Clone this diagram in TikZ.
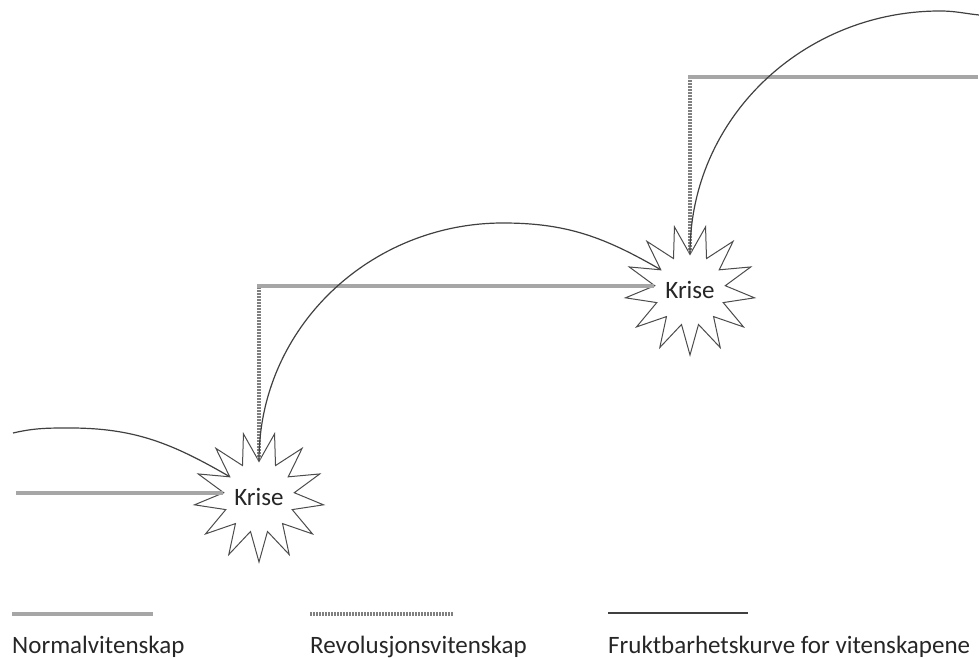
\documentclass[tikz,border=0pt]{standalone}
\usepackage{fontspec}
\setmainfont{Carlito}
\usetikzlibrary{shapes.geometric}

\tikzset{
  normalvit/.style={line width=4pt, color=black!35},
  revvit/.style={line width=4pt, color=black!50, dash pattern=on 2pt off 1pt},
  kurve/.style={line width=1.2pt, color=black!75},
  krise/.style={star, star points=13, star point ratio=1.83, shape border rotate=180,
    minimum size=130pt, inner sep=0pt, draw=black!70, line width=1pt, fill=white,
    font=\fontsize{25}{30}\selectfont, text=black!85},
  forklaring/.style={anchor=base west, inner sep=0pt, font=\fontsize{25}{30}\selectfont, text=black!85}
}

\begin{document}
\begin{tikzpicture}[x=1pt,y=1pt]
    \useasboundingbox (0,0) rectangle (979,659);

    % kriser
    \node[krise] (k1) at (259,162) {Krise};
    \node[krise] (k2) at (690,369) {Krise};

    % hjelpepunkter
    \coordinate (n0) at (16,0);
    \coordinate (e2) at (978,582);
    \coordinate (a0) at (13,226);
    \coordinate (pa) at (70,231);
    \coordinate (pb) at (503,436);
    \coordinate (pc) at (940,648);
    \coordinate (c3) at (979,644);
    \coordinate (r1) at (k1.inner point 7 |- k2.inner point 10);
    \coordinate (r2) at (k2.inner point 7 |- e2);

    % revolusjonsvitenskap
    \draw[revvit] (k1.inner point 7) -- ([yshift=2pt]r1);
    \draw[revvit] (k2.inner point 7) -- ([yshift=2pt]r2);

    % normalvitenskap
    \draw[normalvit] (n0 |- k1.inner point 10) -- (k1.inner point 10);
    \draw[normalvit] ([xshift=-2pt]r1) -- (k2.inner point 10);
    \draw[normalvit] ([xshift=-2pt]r2) -- (e2);

    % fruktbarhetskurver
    \draw[kurve] (a0) to[out=13,in=180] (pa) to[out=0,in=150] (k1.inner point 9);
    \draw[kurve] (k1.inner point 7) to[out=90,in=180] (pb) to[out=0,in=150] (k2.inner point 9);
    \draw[kurve] (k2.inner point 7) to[out=90,in=180] (pc) to[out=0,in=174] (c3);

    % forklaring
    \node[forklaring] (l1) at (12,6) {Normalvitenskap};
    \node[forklaring] (l2) at (310,6) {Revolusjonsvitenskap};
    \node[forklaring] (l3) at (608,6) {Fruktbarhetskurve for vitenskapene};
    \draw[normalvit] ([yshift=39pt]l1.base west) -- +(141,0);
    \draw[revvit] ([yshift=39pt]l2.base west) -- +(143,0);
    \draw[kurve, line width=2pt] ([yshift=40pt]l3.base west) -- +(140,0);
\end{tikzpicture}
\end{document}
